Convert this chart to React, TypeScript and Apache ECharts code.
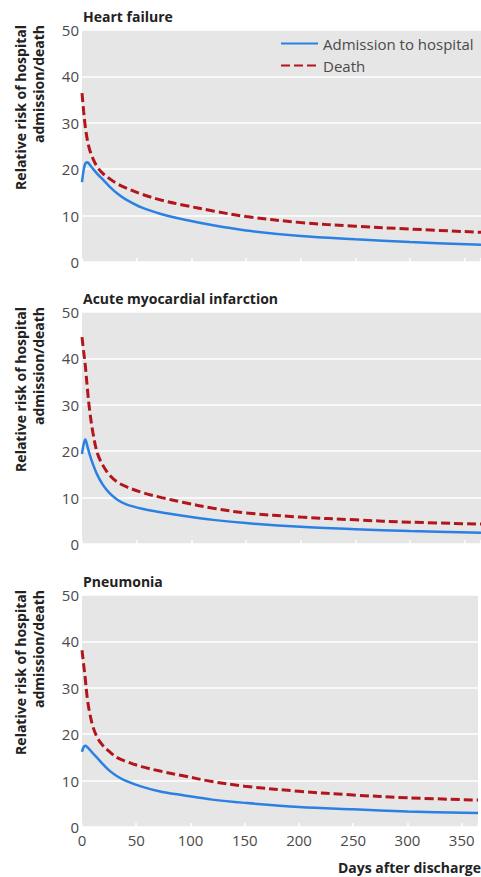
import React, { useEffect, useRef } from "react";
import * as echarts from "echarts";

const days = [0, 1.5, 3, 5, 7, 10, 14, 19, 25, 32, 40, 55, 73, 92, 120, 150, 200, 250, 300, 365];

const panelTitles = ["Heart failure", "Acute myocardial infarction", "Pneumonia"];
const seriesNames = ["Admission to hospital", "Death"];
const xTicks = [0, 50, 100, 150, 200, 250, 300, 350];
const yTicks = [0, 10, 20, 30, 40, 50];

const hfAdmission = [17.2, 19.8, 21.2, 21.5, 21.0, 20.1, 19.0, 17.8, 16.3, 14.8, 13.5, 11.7, 10.3, 9.2, 7.9, 6.8, 5.6, 4.9, 4.3, 3.7];
const hfDeath = [36.4, 32.5, 29.2, 26.2, 24.2, 22.3, 20.5, 19.1, 18.0, 16.9, 16.0, 14.6, 13.3, 12.3, 11.0, 9.8, 8.5, 7.7, 7.1, 6.4];
const amiAdmission = [19.4, 21.5, 22.5, 21.0, 19.3, 17.2, 14.9, 12.8, 11.0, 9.6, 8.6, 7.6, 6.8, 6.1, 5.2, 4.5, 3.7, 3.2, 2.8, 2.4];
const amiDeath = [44.6, 41.5, 38.5, 33.3, 28.8, 24.0, 19.6, 17.0, 14.9, 13.4, 12.4, 11.1, 10.0, 9.0, 7.7, 6.7, 5.8, 5.2, 4.7, 4.3];
const pnAdmission = [16.2, 17.2, 17.5, 17.2, 16.7, 15.9, 14.9, 13.6, 12.2, 11.0, 10.0, 8.7, 7.6, 6.9, 5.9, 5.2, 4.3, 3.8, 3.35, 3.0];
const pnDeath = [38.1, 35.0, 32.0, 27.5, 24.7, 21.7, 19.3, 17.6, 16.3, 15.0, 14.2, 13.0, 12.0, 11.1, 9.8, 8.8, 7.7, 6.9, 6.3, 5.8];

const panelData = [
  [hfAdmission, hfDeath],
  [amiAdmission, amiDeath],
  [pnAdmission, pnDeath],
];

const FONT = "'Open Sans', 'DejaVu Sans', sans-serif";
const BLUE = "#2b80e3";
const RED = "#b3151c";
const gridTops = [30, 312, 595];
const gridHeight = 232;

export default function App() {
  const ref = useRef<HTMLDivElement>(null);
  useEffect(() => {
    if (!ref.current) return;
    const chart = echarts.init(ref.current, null, { renderer: "svg" });

    const grids = gridTops.map((top) => ({
      left: 82,
      top,
      width: 399,
      height: gridHeight,
      show: true,
      backgroundColor: "#e6e6e6",
      borderWidth: 0,
    }));

    const xAxes = gridTops.map((_, i) => ({
      type: "value",
      gridIndex: i,
      min: xTicks[0],
      max: 365,
      interval: 50,
      axisLine: { show: false },
      axisTick: { show: true, inside: true, length: 4, lineStyle: { color: "#ffffff", width: 1.5 } },
      splitLine: { show: false },
      axisLabel: {
        show: i === 2,
        margin: 5,
        fontSize: 15,
        fontFamily: FONT,
        color: "#4a4a4a",
        formatter: (v: number) => (xTicks.includes(v) ? String(v) : ""),
      },
    }));

    const yAxes = gridTops.map((_, i) => ({
      type: "value",
      gridIndex: i,
      min: yTicks[0],
      max: yTicks[yTicks.length - 1],
      interval: 10,
      axisLine: { show: false },
      axisTick: { show: false },
      splitLine: { show: true, lineStyle: { color: "#ffffff", width: 1.5 } },
      axisLabel: { margin: 3, fontSize: 15, fontFamily: FONT, color: "#4a4a4a" },
    }));

    const series: any[] = [];
    panelData.forEach((pair, gi) => {
      pair.forEach((vals, si) => {
        series.push({
          type: "line",
          name: seriesNames[si],
          xAxisIndex: gi,
          yAxisIndex: gi,
          data: days.map((d, k) => [d, vals[k]]),
          smooth: 0.35,
          symbol: "none",
          showSymbol: false,
          z: si === 0 ? 3 : 2,
          lineStyle:
            si === 0
              ? { color: BLUE, width: 2.5, type: "solid" }
              : { color: RED, width: 3, type: [9, 4] },
          itemStyle: { color: si === 0 ? BLUE : RED },
        });
      });
    });

    const graphics: any[] = [];
    gridTops.forEach((top, i) => {
      graphics.push({
        type: "text",
        x: 83,
        y: top - 14,
        style: {
          text: panelTitles[i],
          font: `bold 14px ${FONT}`,
          fill: "#222222",
          align: "left",
          verticalAlign: "middle",
        },
      });
      graphics.push({
        type: "text",
        x: 29,
        y: top - 5,
        rotation: Math.PI / 2,
        style: {
          text: "Relative risk of hospital\nadmission/death",
          font: `bold 14px ${FONT}`,
          fill: "#222222",
          align: "right",
          verticalAlign: "middle",
          lineHeight: 18,
        },
      });
    });
    graphics.push({
      type: "text",
      x: 481,
      y: 867,
      style: {
        text: "Days after discharge",
        font: `bold 14px ${FONT}`,
        fill: "#222222",
        align: "right",
        verticalAlign: "middle",
      },
    });

    chart.setOption({
      animation: false,
      grid: grids,
      xAxis: xAxes,
      yAxis: yAxes,
      legend: {
        data: seriesNames,
        orient: "vertical",
        left: 280,
        top: 36,
        padding: 0,
        itemWidth: 37,
        itemHeight: 14,
        itemGap: 7,
        selectedMode: false,
        itemStyle: { opacity: 0 },
        textStyle: { fontSize: 15, fontFamily: FONT, color: "#4a4a4a" },
      },
      series,
      graphic: graphics,
    });

    return () => chart.dispose();
  }, []);

  return (
    <div
      ref={ref}
      style={{ position: "fixed", left: 0, top: 0, width: 481, height: 877, background: "#ffffff" }}
    />
  );
}
